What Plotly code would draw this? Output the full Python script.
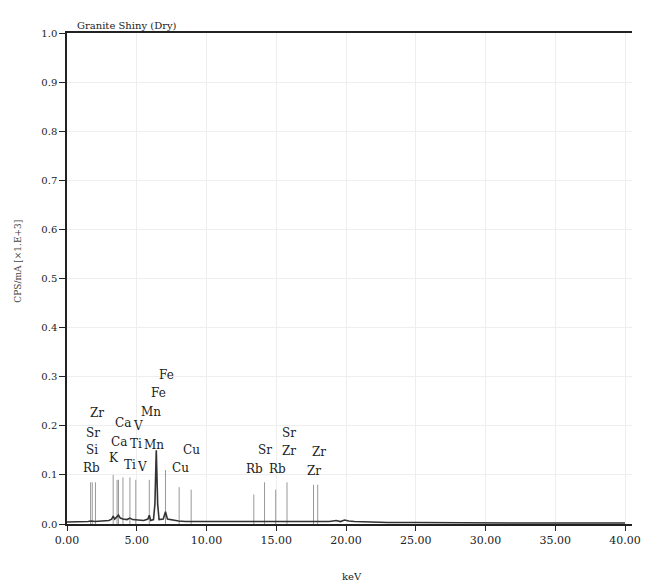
import plotly.graph_objects as go

# Measured XRF spectrum (energy in keV, intensity in CPS/mA x1E+3)
spec_kev = [0.0, 0.5, 1.0, 1.5, 1.74, 2.0, 2.5, 3.0, 3.2, 3.31, 3.42, 3.55, 3.69, 3.82,
            4.0, 4.3, 4.51, 4.7, 5.0, 5.5, 5.8, 5.9, 6.0, 6.2, 6.3, 6.4, 6.5, 6.6, 6.9,
            7.06, 7.2, 7.5, 8.0, 8.5, 9.0, 10.0, 11.0, 12.0, 13.0, 14.0, 15.0, 16.0,
            17.0, 18.0, 18.8, 19.3, 19.6, 19.9, 20.2, 20.6, 21.5, 23.0, 25.0, 28.0,
            32.0, 36.0, 40.0]
spec_cps = [0.004, 0.004, 0.004, 0.005, 0.006, 0.005, 0.006, 0.007, 0.010, 0.016, 0.010,
            0.013, 0.018, 0.012, 0.010, 0.009, 0.012, 0.009, 0.008, 0.007, 0.010, 0.018,
            0.007, 0.009, 0.04, 0.15, 0.04, 0.009, 0.010, 0.025, 0.010, 0.008, 0.006,
            0.005, 0.005, 0.005, 0.004, 0.004, 0.004, 0.005, 0.005, 0.005, 0.004, 0.004,
            0.005, 0.007, 0.005, 0.008, 0.006, 0.005, 0.004, 0.003, 0.003, 0.002, 0.002,
            0.002, 0.002]

# Element line markers (energy keV, marker height)
marker_kev = [1.69, 1.81, 2.04, 3.31, 3.59, 3.69, 4.01, 4.51, 4.93, 5.90, 7.06, 8.04,
              8.90, 13.39, 14.16, 14.96, 15.77, 17.67, 17.97]
marker_height = [0.085, 0.085, 0.085, 0.10, 0.09, 0.09, 0.095, 0.095, 0.09, 0.09, 0.11,
                 0.075, 0.07, 0.06, 0.085, 0.07, 0.085, 0.08, 0.08]

# Element labels (text, energy keV, label height)
label_text = ["Zr", "Sr", "Si", "Rb", "Ca", "V", "Ca", "Ti", "K", "Ti", "V", "Fe", "Fe",
              "Mn", "Mn", "Cu", "Cu", "Sr", "Sr", "Zr", "Rb", "Rb", "Zr", "Zr"]
label_kev = [2.12, 1.83, 1.76, 1.76, 4.0, 5.1, 3.74, 4.94, 3.39, 4.52, 5.36, 7.13, 6.56,
             6.0, 6.21, 8.89, 8.12, 14.18, 15.88, 15.88, 13.41, 15.1, 18.07, 17.71]
label_y = [0.226, 0.185, 0.151, 0.114, 0.206, 0.200, 0.167, 0.163, 0.134, 0.12, 0.116,
           0.303, 0.267, 0.228, 0.161, 0.151, 0.114, 0.151, 0.185, 0.149, 0.112, 0.112,
           0.147, 0.108]

x_ticks = [0, 5, 10, 15, 20, 25, 30, 35, 40]
y_ticks = [0.0, 0.1, 0.2, 0.3, 0.4, 0.5, 0.6, 0.7, 0.8, 0.9, 1.0]

FONT = "DejaVu Serif"
INK = "#222222"

# vertical segments for the marker lines
mx, my = [], []
for e, h in zip(marker_kev, marker_height):
    mx += [e, e, None]
    my += [0, h, None]

fig = go.Figure()
fig.add_trace(go.Scatter(x=mx, y=my, mode="lines",
                         line=dict(color="#999999", width=1),
                         hoverinfo="skip", showlegend=False))
fig.add_trace(go.Scatter(x=spec_kev, y=spec_cps, mode="lines",
                         line=dict(color="#333333", width=1.6),
                         showlegend=False))

for t, x, y in zip(label_text, label_kev, label_y):
    fig.add_annotation(x=x, y=y, text=t, showarrow=False,
                       font=dict(family=FONT, size=12, color=INK),
                       xanchor="center", yanchor="middle")

fig.add_annotation(xref="paper", yref="paper", x=0.014, y=1.0,
                   text="Granite Shiny (Dry)", showarrow=False,
                   xanchor="left", yanchor="bottom",
                   font=dict(family=FONT, size=10, color=INK))
fig.add_annotation(xref="paper", yref="paper", x=0.505, y=-0.106,
                   text="keV", showarrow=False,
                   xanchor="center", yanchor="middle",
                   font=dict(family=FONT, size=10, color=INK))
fig.add_annotation(xref="paper", yref="paper", x=-0.086, y=0.535,
                   text="CPS/mA [×1.E+3]", showarrow=False, textangle=-90,
                   xanchor="center", yanchor="middle",
                   font=dict(family=FONT, size=9, color="#444444"))

fig.update_xaxes(range=[0, 40.5], tickvals=x_ticks,
                 ticktext=[f"{v:.2f}" for v in x_ticks],
                 ticks="outside", ticklen=5, tickcolor=INK,
                 showline=True, linecolor=INK, linewidth=1.5, mirror=True,
                 showgrid=True, gridcolor="#eeeeee", gridwidth=1,
                 zeroline=False,
                 tickfont=dict(family=FONT, size=11, color=INK))
fig.update_yaxes(range=[0, 1.0], tickvals=y_ticks,
                 ticktext=[f"{v:.1f}" for v in y_ticks],
                 ticks="outside", ticklen=6, tickcolor=INK,
                 showline=True, linecolor=INK, linewidth=1.5,
                 showgrid=True, gridcolor="#eeeeee", gridwidth=1,
                 zeroline=False,
                 tickfont=dict(family=FONT, size=10, color=INK))

fig.update_layout(width=651, height=584,
                  margin=dict(l=67, r=10, t=33, b=60),
                  plot_bgcolor="white", paper_bgcolor="white")

fig.write_html("out.html")
